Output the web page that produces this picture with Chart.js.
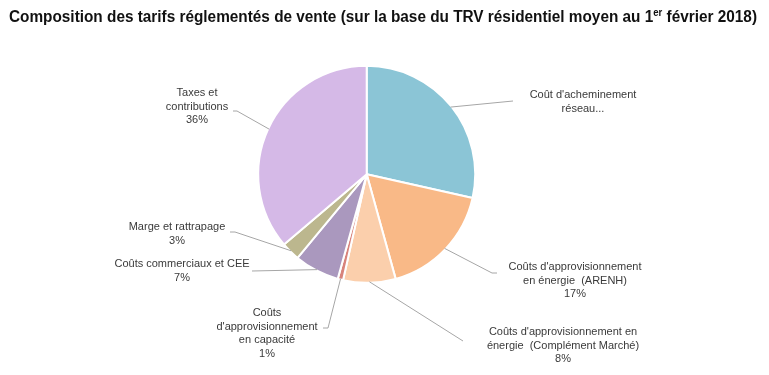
<!DOCTYPE html>
<html>
<head>
<meta charset="utf-8">
<script src="https://cdn.jsdelivr.net/npm/chart.js@4/dist/chart.umd.min.js"></script>
<style>
  html, body { margin: 0; padding: 0; background: #fff; }
  #wrap { position: relative; width: 769px; height: 375px; overflow: hidden; }
  #title {
    position: absolute; left: 9px; top: 8px; white-space: nowrap;
    font: bold 16px "Liberation Sans", sans-serif; color: #111;
    transform-origin: 0 0;
  }
  #title sup { font-size: 10px; line-height: 0; }
  canvas { position: absolute; left: 0; top: 0; }
</style>
</head>
<body>
<div id="wrap">
  <canvas id="pie" width="769" height="375"></canvas>
  <div id="title">Composition des tarifs réglementés de vente (sur la base du TRV résidentiel moyen au 1<sup>er</sup> février 2018)</div>
</div>
<script>
// slices, clockwise from 12 o'clock
const categories = [
  "Coût d'acheminement\nréseau...",
  "Coûts d'approvisionnement\nen énergie  (ARENH)",
  "Coûts d'approvisionnement en\nénergie  (Complément Marché)",
  "Coûts\nd'approvisionnement\nen capacité",
  "Coûts commerciaux et CEE",
  "Marge et rattrapage",
  "Taxes et\ncontributions"
];
const shares = [28.5, 17.2, 7.8, 0.8, 6.7, 2.8, 36.2];
const showPercent = [false, true, true, true, true, true, true];
const colors = ['#8bc5d6', '#f9b987', '#fbcfac', '#d8837b', '#aa98be', '#bcb78e', '#d5b9e7'];

// where each label sits: leader bends, text centre x, first line y
const labelLayout = [
  { path: [[513, 101]], x: 583, y: 95 },
  { path: [[492, 273], [497, 273]], x: 575, y: 267 },
  { path: [[463, 341]], x: 563, y: 332 },
  { path: [[328, 328], [323, 328]], x: 267, y: 313 },
  { path: [[252, 271]], x: 182, y: 264 },
  { path: [[235, 232], [230, 232]], x: 177, y: 227 },
  { path: [[237, 111], [233, 111]], x: 197, y: 93 }
];

// squeeze the bold title into the condensed width of the original
const title = document.getElementById('title');
title.style.transform = 'scaleX(' + (748 / title.getBoundingClientRect().width) + ')';

const labelPlugin = {
  id: 'sliceLabels',
  afterDatasetsDraw(chart) {
    const ctx = chart.ctx;
    const arcs = chart.getDatasetMeta(0).data;
    const total = shares.reduce((a, b) => a + b, 0);
    ctx.save();
    arcs.forEach((arc, i) => {
      const p = arc.getProps(['x', 'y', 'startAngle', 'endAngle', 'outerRadius'], true);
      const mid = (p.startAngle + p.endAngle) / 2;
      const r = p.outerRadius - 1;
      const lay = labelLayout[i];
      ctx.beginPath();
      ctx.moveTo(p.x + Math.cos(mid) * r, p.y + Math.sin(mid) * r);
      lay.path.forEach(pt => ctx.lineTo(pt[0], pt[1]));
      ctx.strokeStyle = '#a6a6a6';
      ctx.lineWidth = 1;
      ctx.stroke();

      const lines = categories[i].split('\n');
      if (showPercent[i]) lines.push(Math.round(shares[i] / total * 100) + '%');
      ctx.fillStyle = '#3a3a3a';
      ctx.font = '11px "Liberation Sans", sans-serif';
      ctx.textAlign = 'center';
      ctx.textBaseline = 'middle';
      lines.forEach((t, k) => ctx.fillText(t, lay.x, lay.y + k * 13.5));
    });
    ctx.restore();
  }
};

new Chart(document.getElementById('pie'), {
  type: 'pie',
  data: {
    labels: categories,
    datasets: [{
      data: shares,
      backgroundColor: colors,
      borderColor: '#ffffff',
      borderWidth: 2,
      radius: 108.5
    }]
  },
  options: {
    responsive: false,
    animation: false,
    layout: { padding: { left: 100, right: 135.6, top: 60, bottom: 86.4 } },
    plugins: {
      legend: { display: false },
      tooltip: { enabled: false }
    }
  },
  plugins: [labelPlugin]
});
</script>
</body>
</html>
